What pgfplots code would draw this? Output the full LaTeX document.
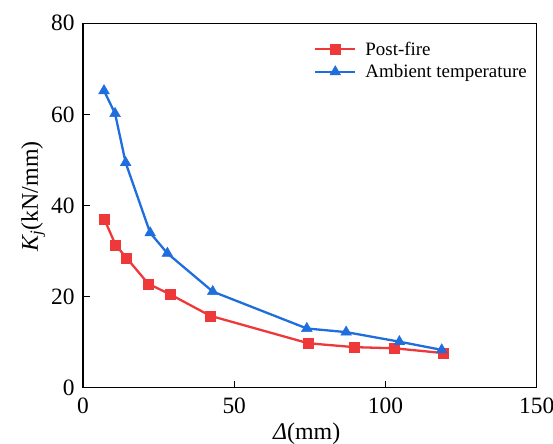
\documentclass[border=0pt]{standalone}
\usepackage{pgfplots}
\pgfplotsset{compat=1.18}
\usepackage{fontspec}
\setmainfont{Liberation Serif}
\definecolor{pfred}{RGB}{238,56,58}
\definecolor{ambblue}{RGB}{30,110,222}
\begin{document}
\begin{tikzpicture}
\begin{axis}[
  scale only axis,
  width=453.7bp, height=364.4bp,
  xmin=0, xmax=150, ymin=0, ymax=80,
  xtick={0,50,100,150}, ytick={0,20,40,60,80},
  xticklabels={0,50,100,150}, yticklabels={0,20,40,60,80},
  tick align=inside, xtick pos=bottom, ytick pos=left,
  major tick length=7bp,
  axis line style={line width=1.1bp, black},
  tick style={line width=1.1bp, black},
  tick label style={font=\fontsize{23.5}{24}\selectfont, inner sep=0pt},
  xticklabel style={yshift=-10bp},
  yticklabel style={xshift=-8.3bp},
  xlabel={{\itshape Δ}(mm)},
  ylabel={{\itshape K\textsubscript{j}}(kN/mm)},
  label style={font=\fontsize{24}{24}\selectfont, inner sep=0pt},
  xlabel style={at={(axis description cs:0.493,-0.1435)}, anchor=base},
  ylabel style={at={(axis description cs:-0.0992,0.525)}, anchor=base, rotate=0},
  legend style={at={(0.509,0.961)}, anchor=north west, draw=none, fill=none,
    font=\fontsize{19}{20}\selectfont, row sep=4bp, inner xsep=0bp},
  legend cell align=left,
  legend image code/.code={
    \draw[mark repeat=2,mark phase=2] plot coordinates {(0bp,0bp) (20bp,0bp) (40bp,0bp)};
    \path (47bp,0bp);
  },
]
\addplot[color=pfred, line width=2.3bp, mark=square*, mark size=5bp, mark options={solid, line width=0.4bp}]
  coordinates {(7.05,37.0) (10.8,31.3) (14.4,28.5) (21.6,22.8) (28.8,20.5) (42.0,15.8) (74.5,9.75) (89.7,8.9) (103.0,8.65) (119.1,7.6)};
\addlegendentry{Post-fire}
\addplot[color=ambblue, line width=2.3bp, mark=triangle*, mark size=6.2bp, mark options={solid, line width=0.4bp}]
  coordinates {(6.95,65.2) (10.6,60.2) (14.1,49.4) (22.2,34.0) (27.9,29.5) (42.9,21.1) (74.0,13.0) (87.0,12.2) (104.6,10.1) (118.6,8.3)};
\addlegendentry{Ambient temperature}
\end{axis}
\pgfresetboundingbox
\path[use as bounding box] ([xshift=-83bp,yshift=-56.3bp]current axis.south west) rectangle ([xshift=16.3bp,yshift=23.3bp]current axis.north east);
\end{tikzpicture}
\end{document}
